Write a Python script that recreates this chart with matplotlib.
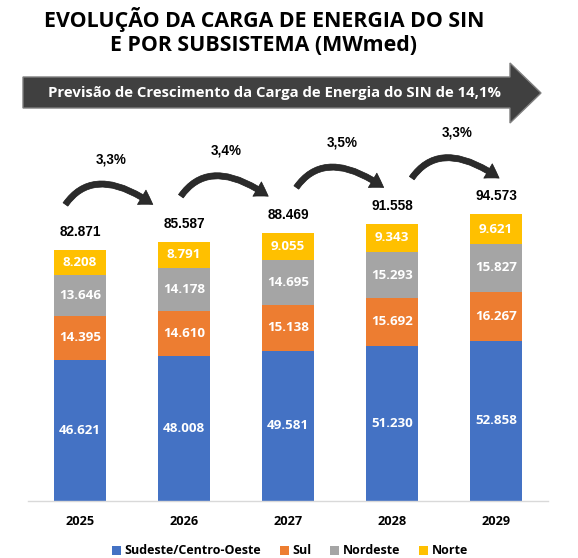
import matplotlib
matplotlib.use("Agg")
import matplotlib.pyplot as plt
from matplotlib.patches import FancyArrowPatch, Polygon
from matplotlib.path import Path

# dados (MWmed)
anos = ["2025", "2026", "2027", "2028", "2029"]
sudeste_co = [46621, 48008, 49581, 51230, 52858]
sul = [14395, 14610, 15138, 15692, 16267]
nordeste = [13646, 14178, 14695, 15293, 15827]
norte = [8208, 8791, 9055, 9343, 9621]
total_sin = [82871, 85587, 88469, 91558, 94573]
crescimento = ["3,3%", "3,4%", "3,5%", "3,3%"]

series = [("Sudeste/Centro-Oeste", sudeste_co, "#4472C4"),
          ("Sul", sul, "#ED7D31"),
          ("Nordeste", nordeste, "#A5A5A5"),
          ("Norte", norte, "#FFC000")]

W, H = 578, 558
LABEL_FONT = "Open Sans"
NUM_FONT = "Liberation Sans"


def fmt(v):
    return f"{v:,}".replace(",", ".")


fig = plt.figure(figsize=(W / 100, H / 100), dpi=100)
renderer = fig.canvas.get_renderer()


def fit_width(textos, alvo_px):
    # ajusta o tamanho da fonte para que o primeiro texto tenha a largura alvo (px)
    larg = textos[0].get_window_extent(renderer).width
    fs = textos[0].get_fontsize() * alvo_px / larg
    for t in textos:
        t.set_fontsize(fs)


ax = fig.add_axes([28 / W, (H - 501) / H, 520 / W, 363.6 / H])
ax.set_xlim(-0.5, 4.5)
ax.set_ylim(0, 120000)

x = list(range(len(anos)))
bottom = [0] * len(anos)
val_labels = []
for nome, vals, cor in series:
    bars = ax.bar(x, vals, width=0.5, bottom=bottom, color=cor, label=nome, zorder=2)
    for b, v in zip(bars, vals):
        val_labels.append(ax.text(b.get_x() + b.get_width() / 2, b.get_y() + b.get_height() / 2,
                                  fmt(v), ha="center", va="center", color="white",
                                  fontsize=10, fontweight="bold", family=LABEL_FONT))
    bottom = [a + b for a, b in zip(bottom, vals)]
fit_width(val_labels, 42)

# totais acima das barras
tot_labels = []
for xi, t in zip(x, total_sin):
    tot_labels.append(ax.annotate(fmt(t), (xi, t), xytext=(0, 13), textcoords="offset points",
                                  ha="center", va="center", fontsize=10, fontweight="bold",
                                  family=NUM_FONT, color="black", annotation_clip=False))
fit_width(tot_labels, 42)

# setas curvas de crescimento
pct_labels = []
for i, lab in enumerate(crescimento):
    xc = 0.28 + 1.11 * i
    half = 0.42
    y0 = total_sin[i] + 15000
    x0, x1 = xc - half, xc + half
    verts = [(x0, y0), (x0 + 0.33 * (x1 - x0), y0 + 13500), (x1, y0)]
    p = Path(verts, [Path.MOVETO, Path.CURVE3, Path.CURVE3])
    arr = FancyArrowPatch(path=p, arrowstyle="simple,head_length=0.95,head_width=1.2,tail_width=0.42",
                          mutation_scale=10, facecolor="#2b2b2b", edgecolor="#1a1a1a",
                          linewidth=0.5, transform=ax.transData, clip_on=False, zorder=3)
    ax.add_patch(arr)
    pct_labels.append(ax.text(xc + 0.02, total_sin[i] + 30000, lab, ha="center", va="center",
                              fontsize=10, fontweight="bold", family=NUM_FONT, color="black",
                              clip_on=False))
fit_width(pct_labels, 31)

ax.set_xticks(x)
ax.set_xticklabels(anos, fontsize=10, fontweight="bold", family=LABEL_FONT)
fit_width(ax.get_xticklabels(), 29)
ax.tick_params(axis="x", length=0, pad=10)
ax.set_yticks([])
for s in ["left", "right", "top"]:
    ax.spines[s].set_visible(False)
ax.spines["bottom"].set_color("#D9D9D9")
ax.spines["bottom"].set_linewidth(1)

leg = fig.legend(loc="center", bbox_to_anchor=(290 / W, 1 - 551 / H), ncol=4, frameon=False,
                 handlelength=0.7, handleheight=0.7, handletextpad=0.3, columnspacing=1.5,
                 prop={"family": LABEL_FONT, "weight": "bold", "size": 9})

# titulo
titulo = fig.text(264 / W, 1 - 31.5 / H, "EVOLUÇÃO DA CARGA DE ENERGIA DO SIN\nE POR SUBSISTEMA (MWmed)",
                  ha="center", va="center", multialignment="center", fontsize=16,
                  fontweight="bold", family=LABEL_FONT, linespacing=1.2)
fit_width([titulo], 442)

# faixa em forma de seta
seta_px = [(23, 77), (510, 77), (510, 63), (541, 93), (510, 123), (510, 108), (23, 108)]
faixa = Polygon([(px / W, 1 - py / H) for px, py in seta_px], closed=True,
                facecolor="#404040", edgecolor="#7f7f7f", linewidth=1,
                transform=fig.transFigure)
fig.add_artist(faixa)
faixa_txt = fig.text(275 / W, 1 - 93 / H, "Previsão de Crescimento da Carga de Energia do SIN de 14,1%",
                     ha="center", va="center", color="white", fontsize=10, fontweight="bold",
                     family=LABEL_FONT)
fit_width([faixa_txt], 452)

fig.savefig("out.png", dpi=100)
